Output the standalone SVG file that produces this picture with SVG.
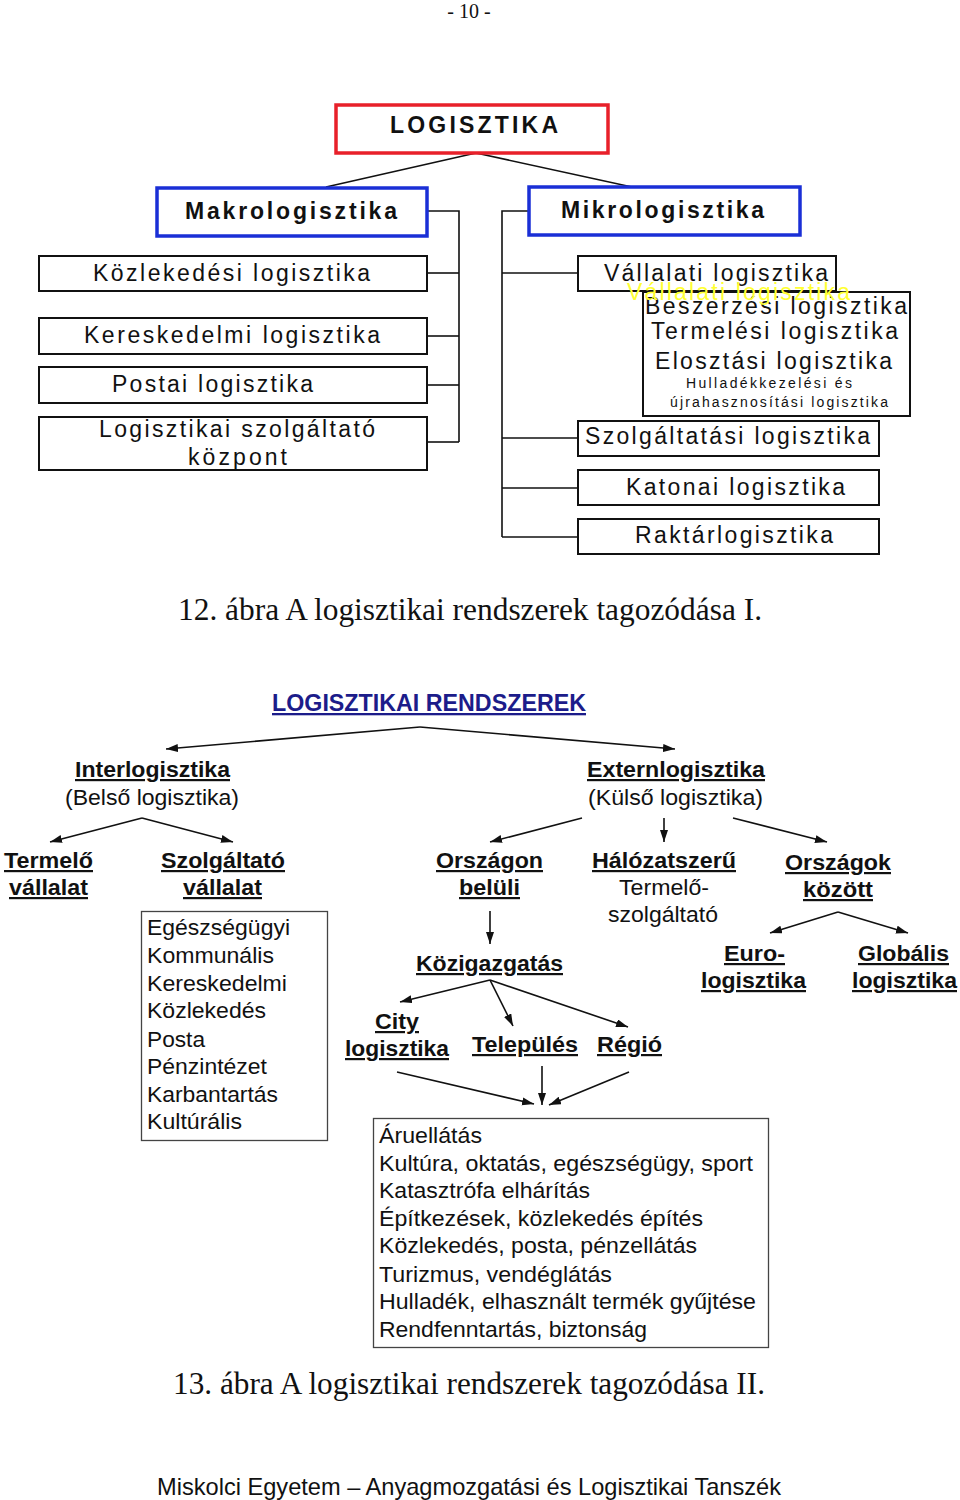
<svg xmlns="http://www.w3.org/2000/svg" width="960" height="1500" viewBox="0 0 960 1500">
<style>
text{font-family:"Liberation Sans",Arial,sans-serif;fill:#111}
.serif{font-family:"Liberation Serif","Times New Roman",serif}
.t{font-size:23px}
.tb{font-size:23px;font-weight:bold}
.small{font-size:14px}
.box{fill:none;stroke:#111;stroke-width:2}
.red{fill:none;stroke:#e8202a;stroke-width:3.5}
.blue{fill:none;stroke:#1a2fd6;stroke-width:3.5}
.lbox{fill:none;stroke:#444;stroke-width:1.3}
.b{font-size:22px;font-weight:bold;text-decoration:underline}
.r{font-size:22px}
.cap{font-size:31px}
.conn path{fill:none;stroke:#111;stroke-width:1.6}
.arr{marker-end:url(#ah)}
</style>
<defs>
<marker id="ah" markerUnits="userSpaceOnUse" markerWidth="13" markerHeight="9" refX="12" refY="4" orient="auto">
<path d="M0,0 L12,4 L0,8 z" fill="#111"/>
</marker>
</defs>
<rect width="960" height="1500" fill="#fff"/>

<text class="serif" x="469" y="18" font-size="20" text-anchor="middle">- 10 -</text>

<g class="conn" id="connectors-top">
<path d="M476,153 L326,187"/>
<path d="M476,153 L632,187"/>
<path d="M428,211 H459 V442"/>
<path d="M427,273 H459"/>
<path d="M427,336 H459"/>
<path d="M427,385 H459"/>
<path d="M427,442 H459"/>
<path d="M528,211 H502 V537"/>
<path d="M502,273 H578"/>
<path d="M502,438 H578"/>
<path d="M502,488 H578"/>
<path d="M502,537 H578"/>
</g>

<g id="logisztika">
<rect class="red" x="336" y="105" width="272" height="48"/>
<text class="tb" x="390" y="133" textLength="168" lengthAdjust="spacing">LOGISZTIKA</text>
</g>
<g id="makro">
<rect class="blue" x="157" y="188" width="270" height="48"/>
<text class="tb" x="185" y="219" textLength="212" lengthAdjust="spacing">Makrologisztika</text>
</g>
<g id="mikro">
<rect class="blue" x="529" y="187" width="271" height="48"/>
<text class="tb" x="561" y="218" textLength="203" lengthAdjust="spacing">Mikrologisztika</text>
</g>
<g id="kozlekedesi">
<rect class="box" x="39" y="256" width="388" height="35"/>
<text class="t" x="93" y="281" textLength="277" lengthAdjust="spacing">Közlekedési logisztika</text>
</g>
<g id="kereskedelmi">
<rect class="box" x="39" y="318" width="388" height="36"/>
<text class="t" x="84" y="343" textLength="296" lengthAdjust="spacing">Kereskedelmi logisztika</text>
</g>
<g id="postai">
<rect class="box" x="39" y="367" width="388" height="36"/>
<text class="t" x="112" y="392" textLength="201" lengthAdjust="spacing">Postai logisztika</text>
</g>
<g id="szolgaltato-kozpont">
<rect class="box" x="39" y="417" width="388" height="53"/>
<text class="t" x="99" y="437" textLength="276" lengthAdjust="spacing">Logisztikai szolgáltató</text>
<text class="t" x="188" y="465" textLength="99" lengthAdjust="spacing">központ</text>
</g>
<g id="vallalati">
<rect class="box" x="578" y="256" width="258" height="35"/>
<text class="t" x="604" y="281" textLength="224" lengthAdjust="spacing">Vállalati logisztika</text>
</g>
<g id="vallalati-alrendszerek">
<rect class="box" x="643" y="292" width="267" height="124"/>
<text class="t" x="645" y="314" textLength="262" lengthAdjust="spacing">Beszerzési logisztika</text>
<text class="t" x="651" y="339" textLength="247" lengthAdjust="spacing">Termelési logisztika</text>
<text class="t" x="655" y="369" textLength="237" lengthAdjust="spacing">Elosztási logisztika</text>
<text class="small" x="686" y="388" textLength="166" lengthAdjust="spacing">Hulladékkezelési és</text>
<text class="small" x="670" y="407" textLength="218" lengthAdjust="spacing">újrahasznosítási logisztika</text>
</g>
<text class="t" x="627" y="300" textLength="223" lengthAdjust="spacing" style="fill:#ffff33">Vállalati logisztika</text>
<g id="szolgaltatasi">
<rect class="box" x="578" y="421" width="301" height="35"/>
<text class="t" x="585" y="444" textLength="285" lengthAdjust="spacing">Szolgáltatási logisztika</text>
</g>
<g id="katonai">
<rect class="box" x="578" y="470" width="301" height="35"/>
<text class="t" x="626" y="495" textLength="219" lengthAdjust="spacing">Katonai logisztika</text>
</g>
<g id="raktar">
<rect class="box" x="578" y="519" width="301" height="35"/>
<text class="t" x="635" y="543" textLength="198" lengthAdjust="spacing">Raktárlogisztika</text>
</g>

<text class="serif cap" x="178" y="620" textLength="584" lengthAdjust="spacingAndGlyphs">12. ábra A logisztikai rendszerek tagozódása I.</text>

<g class="conn" id="connectors-bottom">
<path class="arr" d="M420,727 L166,749"/>
<path class="arr" d="M420,727 L675,749"/>
<path class="arr" d="M142,818 L50,842"/>
<path class="arr" d="M142,818 L233,842"/>
<path class="arr" d="M582,818 L490,842"/>
<path class="arr" d="M664,818 L664,842"/>
<path class="arr" d="M733,818 L827,842"/>
<path class="arr" d="M838,912 L770,933"/>
<path class="arr" d="M838,912 L908,933"/>
<path class="arr" d="M490,911 L490,944"/>
<path class="arr" d="M490,980 L400,1002"/>
<path class="arr" d="M490,980 L513,1026"/>
<path class="arr" d="M490,980 L628,1027"/>
<path class="arr" d="M397,1072 L534,1104"/>
<path class="arr" d="M542,1066 L542,1105"/>
<path class="arr" d="M629,1072 L549,1105"/>
</g>

<g id="logisztikai-rendszerek">
<text x="272" y="711" font-size="23" font-weight="bold" textLength="314" lengthAdjust="spacingAndGlyphs" style="fill:#1c1c8a;text-decoration:underline">LOGISZTIKAI RENDSZEREK</text>
</g>
<g id="interlogisztika">
<text class="b" x="75" y="777" textLength="155" lengthAdjust="spacingAndGlyphs">Interlogisztika</text>
<text class="r" x="65" y="805" textLength="174" lengthAdjust="spacingAndGlyphs">(Belső logisztika)</text>
</g>
<g id="externlogisztika">
<text class="b" x="587" y="777" textLength="178" lengthAdjust="spacingAndGlyphs">Externlogisztika</text>
<text class="r" x="588" y="805" textLength="175" lengthAdjust="spacingAndGlyphs">(Külső logisztika)</text>
</g>
<g id="termelo-vallalat">
<text class="b" x="4" y="868" textLength="89" lengthAdjust="spacingAndGlyphs">Termelő</text>
<text class="b" x="9" y="895" textLength="79" lengthAdjust="spacingAndGlyphs">vállalat</text>
</g>
<g id="szolgaltato-vallalat">
<text class="b" x="161" y="868" textLength="124" lengthAdjust="spacingAndGlyphs">Szolgáltató</text>
<text class="b" x="183" y="895" textLength="79" lengthAdjust="spacingAndGlyphs">vállalat</text>
</g>
<g id="szolgaltato-lista">
<rect class="lbox" x="141.5" y="911.5" width="186" height="229"/>
<text class="r" x="147" y="935" textLength="143" lengthAdjust="spacingAndGlyphs">Egészségügyi</text>
<text class="r" x="147" y="963" textLength="127" lengthAdjust="spacingAndGlyphs">Kommunális</text>
<text class="r" x="147" y="991" textLength="140" lengthAdjust="spacingAndGlyphs">Kereskedelmi</text>
<text class="r" x="147" y="1018" textLength="119" lengthAdjust="spacingAndGlyphs">Közlekedés</text>
<text class="r" x="147" y="1047" textLength="58" lengthAdjust="spacingAndGlyphs">Posta</text>
<text class="r" x="147" y="1074" textLength="120" lengthAdjust="spacingAndGlyphs">Pénzintézet</text>
<text class="r" x="147" y="1102" textLength="131" lengthAdjust="spacingAndGlyphs">Karbantartás</text>
<text class="r" x="147" y="1129" textLength="95" lengthAdjust="spacingAndGlyphs">Kultúrális</text>
</g>
<g id="orszagon-beluli">
<text class="b" x="436" y="868" textLength="107" lengthAdjust="spacingAndGlyphs">Országon</text>
<text class="b" x="459" y="895" textLength="61" lengthAdjust="spacingAndGlyphs">belüli</text>
</g>
<g id="halozatszeru">
<text class="b" x="592" y="868" textLength="144" lengthAdjust="spacingAndGlyphs">Hálózatszerű</text>
<text class="r" x="619" y="895" textLength="90" lengthAdjust="spacingAndGlyphs">Termelő-</text>
<text class="r" x="608" y="922" textLength="110" lengthAdjust="spacingAndGlyphs">szolgáltató</text>
</g>
<g id="orszagok-kozott">
<text class="b" x="785" y="870" textLength="106" lengthAdjust="spacingAndGlyphs">Országok</text>
<text class="b" x="803" y="897" textLength="70" lengthAdjust="spacingAndGlyphs">között</text>
</g>
<g id="eurologisztika">
<text class="b" x="724" y="961" textLength="61" lengthAdjust="spacingAndGlyphs">Euro-</text>
<text class="b" x="701" y="988" textLength="105" lengthAdjust="spacingAndGlyphs">logisztika</text>
</g>
<g id="globalis">
<text class="b" x="858" y="961" textLength="91" lengthAdjust="spacingAndGlyphs">Globális</text>
<text class="b" x="852" y="988" textLength="105" lengthAdjust="spacingAndGlyphs">logisztika</text>
</g>
<g id="kozigazgatas">
<text class="b" x="416" y="971" textLength="147" lengthAdjust="spacingAndGlyphs">Közigazgatás</text>
</g>
<g id="city-logisztika">
<text class="b" x="375" y="1029" textLength="44" lengthAdjust="spacingAndGlyphs">City</text>
<text class="b" x="345" y="1056" textLength="104" lengthAdjust="spacingAndGlyphs">logisztika</text>
</g>
<g id="telepules">
<text class="b" x="472" y="1052" textLength="106" lengthAdjust="spacingAndGlyphs">Település</text>
</g>
<g id="regio">
<text class="b" x="597" y="1052" textLength="65" lengthAdjust="spacingAndGlyphs">Régió</text>
</g>
<g id="kozszolgaltatasok-lista">
<rect class="lbox" x="373.5" y="1118.5" width="395" height="229"/>
<text class="r" x="379" y="1143" textLength="103" lengthAdjust="spacingAndGlyphs">Áruellátás</text>
<text class="r" x="379" y="1171" textLength="374" lengthAdjust="spacingAndGlyphs">Kultúra, oktatás, egészségügy, sport</text>
<text class="r" x="379" y="1198" textLength="211" lengthAdjust="spacingAndGlyphs">Katasztrófa elhárítás</text>
<text class="r" x="379" y="1226" textLength="324" lengthAdjust="spacingAndGlyphs">Építkezések, közlekedés építés</text>
<text class="r" x="379" y="1253" textLength="318" lengthAdjust="spacingAndGlyphs">Közlekedés, posta, pénzellátás</text>
<text class="r" x="379" y="1282" textLength="233" lengthAdjust="spacingAndGlyphs">Turizmus, vendéglátás</text>
<text class="r" x="379" y="1309" textLength="377" lengthAdjust="spacingAndGlyphs">Hulladék, elhasznált termék gyűjtése</text>
<text class="r" x="379" y="1337" textLength="268" lengthAdjust="spacingAndGlyphs">Rendfenntartás, biztonság</text>
</g>

<text class="serif cap" x="173" y="1394" textLength="592" lengthAdjust="spacingAndGlyphs">13. ábra A logisztikai rendszerek tagozódása II.</text>

<text x="157" y="1495" font-size="24" textLength="624" lengthAdjust="spacingAndGlyphs">Miskolci Egyetem – Anyagmozgatási és Logisztikai Tanszék</text>
</svg>
